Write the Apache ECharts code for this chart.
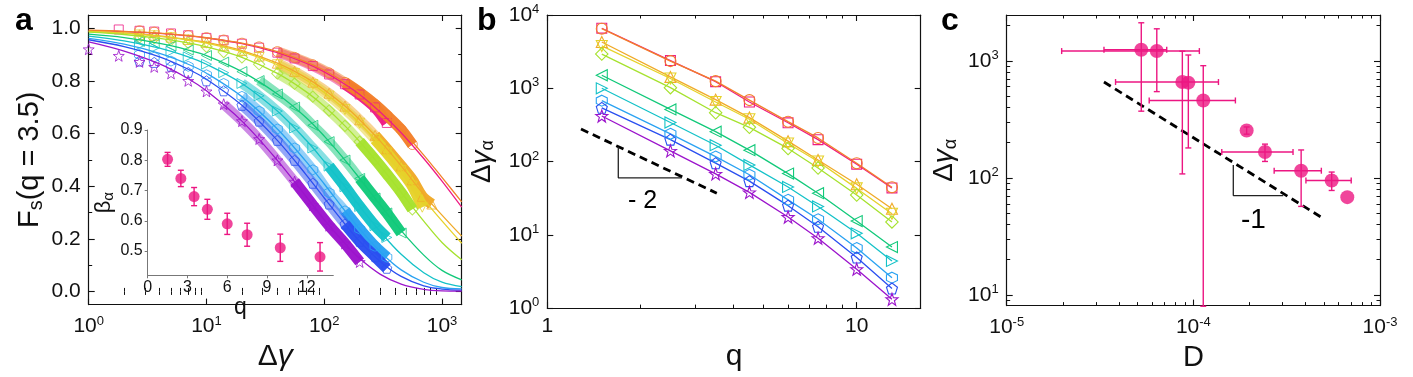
<!DOCTYPE html>
<html>
<head>
<meta charset="utf-8">
<style>
  html, body { margin: 0; padding: 0; background: #fff; }
  #chart { width: 1413px; height: 377px; }
</style>
<script src="https://cdn.jsdelivr.net/npm/echarts@6/dist/echarts.min.js"></script>
</head>
<body>
<div id="chart"></div>
<script>
// ---------- panel a: F_s(q = 3.5) vs strain ----------
var FIT_X = [1, 2, 4, 7, 10, 20, 40, 70, 100, 150, 200, 300, 450, 700, 1000, 1470];
var FIT_MAG = [0.991, 0.987, 0.980, 0.971, 0.963, 0.941, 0.907, 0.867, 0.834, 0.787, 0.748, 0.681, 0.603, 0.505, 0.419, 0.320];
var FIT_ORA = [0.992, 0.988, 0.981, 0.972, 0.964, 0.943, 0.911, 0.872, 0.840, 0.794, 0.756, 0.691, 0.615, 0.518, 0.433, 0.340];
var FIT_TRU = [0.988, 0.982, 0.971, 0.957, 0.946, 0.915, 0.867, 0.812, 0.766, 0.704, 0.652, 0.570, 0.477, 0.368, 0.290, 0.210];
var FIT_TRD = [0.988, 0.981, 0.969, 0.955, 0.943, 0.911, 0.861, 0.803, 0.756, 0.691, 0.639, 0.554, 0.459, 0.350, 0.268, 0.183];
var FIT_DIA = [0.985, 0.976, 0.961, 0.944, 0.929, 0.889, 0.828, 0.759, 0.703, 0.629, 0.569, 0.476, 0.376, 0.267, 0.186, 0.120];
var FIT_GRN = [0.977, 0.964, 0.942, 0.917, 0.896, 0.835, 0.750, 0.661, 0.590, 0.499, 0.429, 0.328, 0.231, 0.138, 0.080, 0.044];
var FIT_TEA = [0.970, 0.952, 0.924, 0.891, 0.863, 0.790, 0.685, 0.575, 0.494, 0.398, 0.323, 0.226, 0.141, 0.071, 0.035, 0.018];
var FIT_HEX = [0.961, 0.939, 0.904, 0.863, 0.829, 0.740, 0.617, 0.494, 0.408, 0.306, 0.237, 0.150, 0.082, 0.035, 0.015, 0.010];
var FIT_PEN = [0.956, 0.930, 0.891, 0.844, 0.806, 0.707, 0.574, 0.444, 0.355, 0.256, 0.190, 0.113, 0.057, 0.021, 0.009, 0.005];
var FIT_STA = [0.948, 0.913, 0.864, 0.808, 0.762, 0.647, 0.498, 0.361, 0.273, 0.182, 0.125, 0.065, 0.028, 0.008, 0.002, 0.001];

var DATA_X = [1, 1.8, 2.7, 3.6, 5, 7, 10, 14, 20, 28, 40, 56, 80, 110, 150, 200, 270, 340, 450, 560, 680, 820];
var DATA_MAG = [null, 0.995, 0.990, 0.987, 0.980, 0.973, 0.963, 0.954, 0.941, 0.926, 0.907, 0.885, 0.856, 0.824, 0.787, 0.748, 0.699, 0.640, null, null, null, null];
var DATA_ORA = [null, null, 0.990, 0.985, 0.977, 0.972, 0.964, 0.955, 0.943, 0.929, 0.911, 0.889, 0.861, 0.830, 0.794, 0.756, 0.710, 0.669, 0.615, 0.558, null, null];
var DATA_TRU = [null, null, 0.975, 0.973, 0.966, 0.957, 0.946, 0.933, 0.915, 0.894, 0.867, 0.836, 0.795, 0.753, 0.704, 0.652, 0.593, 0.542, 0.477, 0.424, 0.361, 0.332];
var DATA_TRD = [null, null, 0.974, 0.971, 0.964, 0.955, 0.943, 0.929, 0.911, 0.889, 0.861, 0.828, 0.786, 0.742, 0.691, 0.639, 0.577, 0.526, 0.459, 0.400, 0.320, null];
var DATA_DIA = [null, null, 0.965, 0.962, 0.955, 0.944, 0.929, 0.909, 0.889, 0.863, 0.828, 0.789, 0.740, 0.687, 0.629, 0.569, 0.501, 0.446, 0.376, 0.312, null, null];
var DATA_GRN = [null, null, 0.950, 0.944, 0.932, 0.917, 0.896, 0.871, 0.835, 0.801, 0.750, 0.700, 0.631, 0.569, 0.499, 0.429, 0.355, 0.298, 0.222, null, null, null];
var DATA_TEA = [null, null, 0.935, 0.925, 0.912, 0.891, 0.863, 0.831, 0.790, 0.743, 0.685, 0.621, 0.545, 0.476, 0.398, 0.323, 0.250, 0.205, null, null, null, null];
var DATA_HEX = [null, null, 0.900, 0.890, 0.875, 0.855, 0.823, 0.790, 0.741, 0.685, 0.617, 0.545, 0.462, 0.375, 0.306, 0.237, 0.171, 0.130, null, null, null, null];
var DATA_PEN = [null, null, 0.875, 0.870, 0.855, 0.832, 0.800, 0.762, 0.707, 0.647, 0.574, 0.498, 0.411, 0.332, 0.256, 0.190, 0.132, 0.088, null, null, null, null];
var DATA_STA = [0.920, 0.895, 0.872, 0.853, 0.828, 0.800, 0.760, 0.711, 0.647, 0.579, 0.498, 0.417, 0.328, 0.250, 0.182, 0.112, null, null, null, null, null, null];

// inset: beta_alpha vs q
var INSET_Q = [1.5, 2.5, 3.5, 4.5, 6, 7.5, 10, 13];
var INSET_BETA = [0.803, 0.740, 0.680, 0.638, 0.590, 0.554, 0.511, 0.481];
var INSET_ERR = [0.023, 0.027, 0.030, 0.033, 0.035, 0.038, 0.045, 0.047];

// ---------- panel b: relaxation strain vs q ----------
var Q = [1.5, 2.5, 3.5, 4.5, 6, 7.5, 10, 13];
var B_MAG = [6600, 2390, 1230, 650, 338, 199, 92, 43.6];
var B_ORA = [6500, 2350, 1250, 690, 350, 210, 95, 44.5];
var B_TRU = [4280, 1430, 700, 398, 190, 105, 49, 22.7];
var B_TRD = [3780, 1360, 650, 378, 176, 100, 43, 19.4];
var B_DIA = [2930, 1020, 464, 293, 151, 81.5, 35, 15];
var B_GRN = [1506, 514, 256, 143, 68.5, 37, 15.4, 6.8];
var B_TEA = [1000, 341, 167, 90, 45, 24.4, 10.5, 4.4];
var B_HEX = [678, 239, 117, 66, 30, 16.3, 6.6, 2.6];
var B_PEN = [541, 199, 95, 54, 25, 12.9, 4.9, 1.85];
var B_STA = [419, 140, 68, 38, 17.5, 9, 3.4, 1.32];
var B_GUIDE_Q = [1.285, 3.53];
var B_GUIDE_G = [278, 37];
var B_TRI_Q = [1.696, 1.696, 2.72];
var B_TRI_G = [158.5, 60, 60];

// ---------- panel c: relaxation strain vs D ----------
var C_D = [5.26e-5, 6.37e-5, 8.73e-5, 9.4e-5, 1.13e-4, 1.93e-4, 2.42e-4, 3.78e-4, 5.51e-4, 6.68e-4];
var C_G = [1241, 1210, 658, 650, 458, 254, 166, 115, 95, 68.4];
var C_D_ERR = [1.94e-5, 4.4e-5, 4.9e-5, 0, 5.5e-5, 0, 1.0e-4, 1.07e-4, 1.5e-4, 0];
var C_G_ERR = [870, 665, 550, 470, 450, 18, 28, 58, 17, 0];
var C_GUIDE_D = [3.32e-5, 4.93e-4];
var C_GUIDE_G = [658, 45.3];
var C_TRI_D = [1.637e-4, 1.637e-4, 3.03e-4];
var C_TRI_G = [129, 70.5, 70.5];

// ---------- styles ----------
var INK = '#111';
var PINK = '#ec1682';
var FONT = '"Liberation Sans", Arial, sans-serif';
var COLORS = ['#ee1c84', '#f2802a', '#f0aa28', '#e6d22a', '#a6e22e', '#12c97a', '#14c2c8', '#2aa2f2', '#2a4ff0', '#9c14cc'];
var HEXAGON = 'path://M0,-10L8.66,-5L8.66,5L0,10L-8.66,5L-8.66,-5Z';
var PENTAGON = 'path://M0,-10L9.51,-3.09L5.88,8.09L-5.88,8.09L-9.51,-3.09Z';
var STAR = 'path://M0,-10L2.35,-3.24L9.51,-3.09L3.8,1.24L5.88,8.09L0,4L-5.88,8.09L-3.8,1.24L-9.51,-3.09L-2.35,-3.24Z';
var SYMBOLS = ['rect', 'circle', 'triangle', 'triangle', 'rect', 'triangle', 'triangle', HEXAGON, PENTAGON, STAR];
var ROTATE = [0, 0, 0, 180, 45, 90, -90, 0, 0, 0];
var SIZE_SCALE = [0.9, 1, 1, 1, 0.8, 1, 1, 1, 1, 1.1];
// where the overlapping markers start to read as a hatched band, and as a solid band
var HATCH_START = [40, 40, 40, 40, 40, 28, 20, 20, 20, 14];
var SOLID_START = [140, 140, 250, 250, 200, 180, 100, 130, 130, 56];

var FITS = [FIT_MAG, FIT_ORA, FIT_TRU, FIT_TRD, FIT_DIA, FIT_GRN, FIT_TEA, FIT_HEX, FIT_PEN, FIT_STA];
var DATAS = [DATA_MAG, DATA_ORA, DATA_TRU, DATA_TRD, DATA_DIA, DATA_GRN, DATA_TEA, DATA_HEX, DATA_PEN, DATA_STA];
var BSETS = [B_MAG, B_ORA, B_TRU, B_TRD, B_DIA, B_GRN, B_TEA, B_HEX, B_PEN, B_STA];

function zip(xs, ys) {
  var out = [];
  for (var i = 0; i < xs.length; i++) if (ys[i] != null) out.push([xs[i], ys[i]]);
  return out;
}
function decades(from, to) {
  var out = [];
  for (var e = from; e < to; e++) for (var m = 2; m <= 9; m++) out.push(m * Math.pow(10, e));
  return out;
}
function logFmt(v) {
  var e = Math.round(Math.log(v) / Math.LN10);
  return '10{sup|' + e + '}';
}
var LOG_RICH = { sup: { fontSize: 13, fontFamily: FONT, color: INK, padding: [0, 0, 11, 0] } };

var xAxes = [], yAxes = [];
// a framed axis pair: labelled side plus mirrored side, each with a minor-tick companion
function addBox(list, gi, sides, type, min, max, majors, minors, label, name) {
  var first = list.length;
  sides.forEach(function (side, k) {
    var main = {
      gridIndex: gi, type: type, position: side, min: min, max: max,
      axisLine: { show: true, onZero: false, lineStyle: { color: INK, width: 1.2 } },
      axisTick: { show: true, inside: true, length: 6, customValues: majors, lineStyle: { color: INK, width: 1.1 } },
      axisLabel: { show: false },
      splitLine: { show: false }
    };
    if (k === 0) {
      main.axisLabel = Object.assign({ show: true, customValues: majors, color: INK, fontFamily: FONT, fontSize: 21, margin: 8 }, label);
      if (name) Object.assign(main, name);
    }
    list.push(main);
    if (minors) {
      list.push({
        gridIndex: gi, type: type, position: side, min: min, max: max,
        axisLine: { show: false },
        axisTick: { show: true, inside: true, length: 3.5, customValues: minors, lineStyle: { color: INK, width: 1 } },
        axisLabel: { show: false },
        splitLine: { show: false }
      });
    }
  });
  return first;
}

// panel a
var axA = addBox(xAxes, 0, ['bottom', 'top'], 'log', 1, 1470, [1, 10, 100, 1000], decades(0, 3),
  { formatter: logFmt, rich: LOG_RICH, margin: 10 },
  { name: 'Δ{it|γ}', nameLocation: 'middle', nameGap: 24,
    nameTextStyle: { fontSize: 30, fontFamily: FONT, color: INK, rich: { it: { fontSize: 30, fontStyle: 'italic', fontFamily: FONT, color: INK } } } });
var ayA = addBox(yAxes, 0, ['left', 'right'], 'value', -0.05, 1.05, [0, 0.2, 0.4, 0.6, 0.8, 1.0], [0.1, 0.3, 0.5, 0.7, 0.9],
  { formatter: function (v) { return v.toFixed(1); } },
  { name: 'F{sub|s}(q = 3.5)', nameLocation: 'middle', nameGap: 42,
    nameTextStyle: { fontSize: 29, fontFamily: FONT, color: INK, rich: { sub: { fontSize: 20, fontFamily: FONT, color: INK, padding: [14, 0, 0, 0] } } } });

// inset
var axI = xAxes.length;
xAxes.push({
  gridIndex: 1, type: 'value', min: 0, max: 14, position: 'bottom',
  axisLine: { show: true, onZero: false, lineStyle: { color: '#777', width: 1 } },
  axisTick: { show: true, length: 3, customValues: [0, 3, 6, 9, 12], lineStyle: { color: '#777' } },
  axisLabel: { show: true, customValues: [0, 3, 6, 9, 12], color: INK, fontFamily: FONT, fontSize: 16, margin: 4 },
  splitLine: { show: false },
  name: 'q', nameLocation: 'middle', nameGap: 4,
  nameTextStyle: { fontSize: 23, fontFamily: FONT, color: INK }
});
var ayI = yAxes.length;
yAxes.push({
  gridIndex: 1, type: 'value', min: 0.42, max: 0.9, position: 'left',
  axisLine: { show: true, onZero: false, lineStyle: { color: '#777', width: 1 } },
  axisTick: { show: true, length: 3, customValues: [0.5, 0.6, 0.7, 0.8, 0.9], lineStyle: { color: '#777' } },
  axisLabel: { show: true, customValues: [0.5, 0.6, 0.7, 0.8, 0.9], color: INK, fontFamily: FONT, fontSize: 16, margin: 5,
    formatter: function (v) { return v.toFixed(1); } },
  splitLine: { show: false },
  name: 'β{sub|α}', nameLocation: 'middle', nameGap: 30,
  nameTextStyle: { fontSize: 22, fontFamily: FONT, color: INK, rich: { sub: { fontSize: 15, fontFamily: FONT, color: INK, padding: [10, 0, 0, 0] } } }
});

// panel b
var axB = addBox(xAxes, 2, ['bottom', 'top'], 'log', 1, 16.1, [1, 10], decades(0, 1),
  { formatter: function (v) { return String(Math.round(v)); } },
  { name: 'q', nameLocation: 'middle', nameGap: 20, nameTextStyle: { fontSize: 30, fontFamily: FONT, color: INK } });
var ayB = addBox(yAxes, 2, ['left', 'right'], 'log', 1, 10000, [1, 10, 100, 1000, 10000], null,
  { formatter: logFmt, rich: LOG_RICH },
  { name: 'Δ{it|γ}{sub|α}', nameLocation: 'middle', nameGap: 50,
    nameTextStyle: { fontSize: 28, fontFamily: FONT, color: INK, rich: {
      it: { fontSize: 28, fontStyle: 'italic', fontFamily: FONT, color: INK },
      sub: { fontSize: 18, fontFamily: FONT, color: INK, padding: [12, 0, 0, 0] } } } });

// panel c
var axC = addBox(xAxes, 3, ['bottom', 'top'], 'log', 1e-5, 1e-3, [1e-5, 1e-4, 1e-3], decades(-5, -3),
  { formatter: logFmt, rich: LOG_RICH, margin: 10 },
  { name: 'D', nameLocation: 'middle', nameGap: 28, nameTextStyle: { fontSize: 29, fontFamily: FONT, color: INK } });
var ayC = addBox(yAxes, 3, ['left', 'right'], 'log', 8.1, 2460, [10, 100, 1000], [9].concat(decades(1, 3), [2000]),
  { formatter: logFmt, rich: LOG_RICH },
  { name: 'Δ{it|γ}{sub|α}', nameLocation: 'middle', nameGap: 47,
    nameTextStyle: { fontSize: 28, fontFamily: FONT, color: INK, rich: {
      it: { fontSize: 28, fontStyle: 'italic', fontFamily: FONT, color: INK },
      sub: { fontSize: 18, fontFamily: FONT, color: INK, padding: [12, 0, 0, 0] } } } });

// ---------- series ----------
var series = [];
COLORS.forEach(function (c, i) {
  var pts = zip(DATA_X, DATAS[i]);
  var hatch = pts.filter(function (p) { return p[0] >= HATCH_START[i]; });
  var solid = pts.filter(function (p) { return p[0] >= SOLID_START[i]; });
  series.push({ type: 'line', xAxisIndex: axA, yAxisIndex: ayA, data: hatch, showSymbol: false, smooth: 0.3,
    lineStyle: { color: c, width: 10, opacity: 0.5, cap: 'butt' }, z: 2, silent: true });
  series.push({ type: 'line', xAxisIndex: axA, yAxisIndex: ayA, data: solid, showSymbol: false, smooth: 0.3,
    lineStyle: { color: c, width: 11, opacity: 0.95, cap: 'butt' }, z: 2, silent: true });
});
COLORS.forEach(function (c, i) {
  series.push({ type: 'scatter', xAxisIndex: axA, yAxisIndex: ayA, data: zip(DATA_X, DATAS[i]),
    symbol: SYMBOLS[i], symbolRotate: ROTATE[i], symbolSize: 10 * SIZE_SCALE[i],
    itemStyle: { color: 'rgba(255,255,255,0)', borderColor: c, borderWidth: 1 }, z: 3, silent: true });
});
COLORS.forEach(function (c, i) {
  series.push({ type: 'line', xAxisIndex: axA, yAxisIndex: ayA, data: zip(FIT_X, FITS[i]), showSymbol: false,
    smooth: 0.35, lineStyle: { color: c, width: 1.3 }, z: 4, silent: true });
});

function errorBars(gx, gy, color, cap) {
  return {
    type: 'custom', xAxisIndex: gx, yAxisIndex: gy, z: 5, silent: true,
    renderItem: function (params, api) {
      var x = api.value(0), y = api.value(1), ex = api.value(2), ey = api.value(3);
      var st = { stroke: color, lineWidth: 1.4 };
      var kids = [];
      if (ey > 0) {
        var a = api.coord([x, y - ey]), b = api.coord([x, y + ey]);
        kids.push({ type: 'line', shape: { x1: a[0], y1: a[1], x2: b[0], y2: b[1] }, style: st });
        kids.push({ type: 'line', shape: { x1: a[0] - cap, y1: a[1], x2: a[0] + cap, y2: a[1] }, style: st });
        kids.push({ type: 'line', shape: { x1: b[0] - cap, y1: b[1], x2: b[0] + cap, y2: b[1] }, style: st });
      }
      if (ex > 0) {
        var l = api.coord([x - ex, y]), r = api.coord([x + ex, y]);
        kids.push({ type: 'line', shape: { x1: l[0], y1: l[1], x2: r[0], y2: r[1] }, style: st });
        kids.push({ type: 'line', shape: { x1: l[0], y1: l[1] - cap, x2: l[0], y2: l[1] + cap }, style: st });
        kids.push({ type: 'line', shape: { x1: r[0], y1: r[1] - cap, x2: r[0], y2: r[1] + cap }, style: st });
      }
      return { type: 'group', children: kids };
    }
  };
}

// inset
var insetErr = errorBars(axI, ayI, PINK, 3);
insetErr.data = INSET_Q.map(function (q, i) { return [q, INSET_BETA[i], 0, INSET_ERR[i]]; });
series.push(insetErr);
series.push({ type: 'scatter', xAxisIndex: axI, yAxisIndex: ayI, data: zip(INSET_Q, INSET_BETA),
  symbolSize: 11, itemStyle: { color: PINK }, z: 6, silent: true });

// panel b
COLORS.forEach(function (c, i) {
  series.push({ type: 'line', xAxisIndex: axB, yAxisIndex: ayB, data: zip(Q, BSETS[i]),
    symbol: SYMBOLS[i], symbolRotate: ROTATE[i], symbolSize: 11 * SIZE_SCALE[i], showSymbol: true,
    itemStyle: { color: 'rgba(255,255,255,0)', borderColor: c, borderWidth: 1.1 },
    lineStyle: { color: c, width: 1.3 }, z: 3, silent: true });
});
series.push({ type: 'line', xAxisIndex: axB, yAxisIndex: ayB, data: zip(B_GUIDE_Q, B_GUIDE_G), showSymbol: false,
  lineStyle: { color: '#000', width: 2.8, type: [8, 5] }, z: 4, silent: true });
series.push({ type: 'line', xAxisIndex: axB, yAxisIndex: ayB, data: zip(B_TRI_Q, B_TRI_G), showSymbol: false,
  lineStyle: { color: '#222', width: 1.3 }, z: 4, silent: true });

// panel c
var cErr = errorBars(axC, ayC, PINK, 3);
cErr.data = C_D.map(function (d, i) { return [d, C_G[i], C_D_ERR[i], C_G_ERR[i]]; });
series.push(cErr);
series.push({ type: 'scatter', xAxisIndex: axC, yAxisIndex: ayC, data: zip(C_D, C_G),
  symbolSize: 14, itemStyle: { color: PINK }, z: 6, silent: true });
series.push({ type: 'line', xAxisIndex: axC, yAxisIndex: ayC, data: zip(C_GUIDE_D, C_GUIDE_G), showSymbol: false,
  lineStyle: { color: '#000', width: 2.8, type: [8, 5] }, z: 4, silent: true });
series.push({ type: 'line', xAxisIndex: axC, yAxisIndex: ayC, data: zip(C_TRI_D, C_TRI_G), showSymbol: false,
  lineStyle: { color: '#222', width: 1.3 }, z: 4, silent: true });

var chart = echarts.init(document.getElementById('chart'), null, { renderer: 'canvas' });
chart.setOption({
  animation: false,
  backgroundColor: '#fff',
  grid: [
    { left: 88.7, top: 15, width: 373, height: 300 },
    { left: 147.7, top: 130, width: 185.6, height: 145.3 },
    { left: 547.3, top: 15, width: 373.4, height: 300 },
    { left: 1006.7, top: 15, width: 373.3, height: 300 }
  ],
  xAxis: xAxes,
  yAxis: yAxes,
  series: series,
  graphic: [
    { type: 'text', left: 15, top: 5, style: { text: 'a', font: 'bold 32px ' + FONT, fill: '#000' } },
    { type: 'text', left: 477, top: 5, style: { text: 'b', font: 'bold 32px ' + FONT, fill: '#000' } },
    { type: 'text', left: 941, top: 5, style: { text: 'c', font: 'bold 32px ' + FONT, fill: '#000' } },
    { type: 'text', left: 628, top: 189, style: { text: '- 2', font: '25px ' + FONT, fill: '#000' } },
    { type: 'text', left: 1241, top: 206, style: { text: '-1', font: '28px ' + FONT, fill: '#000' } }
  ]
});
</script>
</body>
</html>
